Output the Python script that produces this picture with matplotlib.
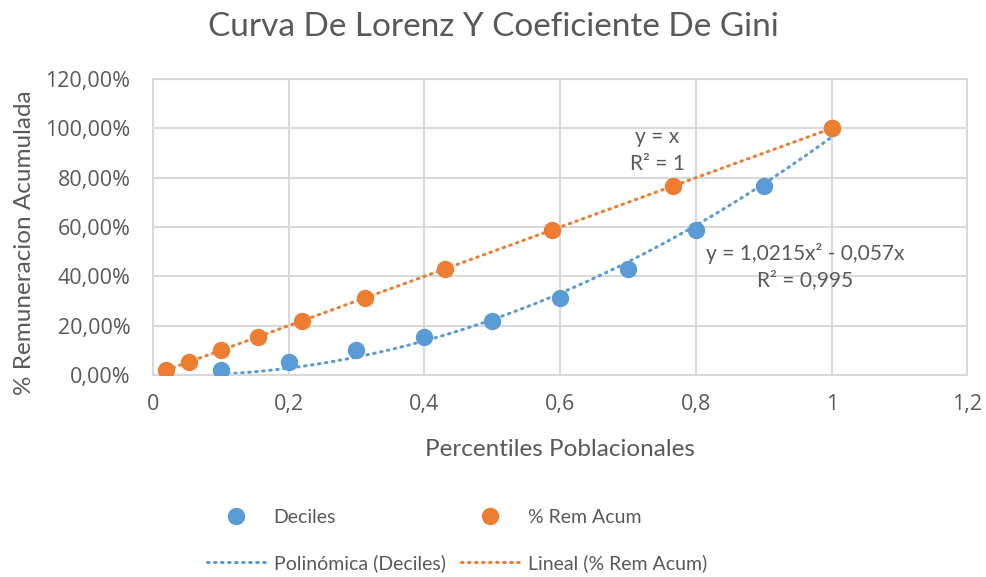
import numpy as np
import matplotlib
matplotlib.use("Agg")
import matplotlib.pyplot as plt
from matplotlib.ticker import FuncFormatter, MultipleLocator

# datos
deciles_x = [0.1, 0.2, 0.3, 0.4, 0.5, 0.6, 0.7, 0.8, 0.9, 1.0]
rem_acum = [0.020, 0.054, 0.101, 0.155, 0.220, 0.312, 0.431, 0.588, 0.766, 1.0]
# la serie "% Rem Acum" usa la propia remuneracion acumulada como eje x
rem_x = list(rem_acum)

titulo = "Curva De Lorenz Y Coeficiente De Gini"
eq_poly = "y = 1,0215x² - 0,057x\nR² = 0,995"
eq_lin = "y = x\nR² = 1"

BLUE = "#5B9BD5"
ORANGE = "#ED7D31"
GRAY = "#595959"
GRID = "#D9D9D9"

plt.rcParams['font.family'] = ['Lato', 'DejaVu Sans']


def fmt_x(v, pos):
    s = ("%.1f" % v).rstrip("0").rstrip(".")
    return s.replace(".", ",")


def fmt_y(v, pos):
    return ("%.2f%%" % (v * 100)).replace(".", ",")


def main():
    fig = plt.figure(figsize=(9.86, 5.77), dpi=100)
    ax = fig.add_axes([0.1549, 0.350, 0.8263, 0.513])

    dots = (0, (0.5, 1.8))

    # linea de tendencia polinomica (orden 2, interseccion en 0)
    x = np.array(deciles_x)
    y = np.array(rem_acum)
    A = np.vstack([x ** 2, x]).T
    coef, *_ = np.linalg.lstsq(A, y, rcond=None)
    xs = np.linspace(x.min(), x.max(), 200)
    ax.plot(xs, coef[0] * xs ** 2 + coef[1] * xs, color=BLUE, lw=2.2,
            linestyle=dots, dash_capstyle="round",
            label="Polinómica (Deciles)", zorder=2)

    # linea de tendencia lineal
    xr = np.array(rem_x)
    m, b = np.polyfit(xr, y, 1)
    xl = np.linspace(xr.min(), xr.max(), 2)
    ax.plot(xl, m * xl + b, color=ORANGE, lw=2.2,
            linestyle=dots, dash_capstyle="round",
            label="Lineal (% Rem Acum)", zorder=2)

    ax.plot(deciles_x, rem_acum, "o", color=BLUE, ms=11.5, label="Deciles", zorder=3)
    ax.plot(rem_x, rem_acum, "o", color=ORANGE, ms=11.5, label="% Rem Acum", zorder=3)

    ax.set_xlim(0, 1.2)
    ax.set_ylim(0, 1.2)
    ax.xaxis.set_major_locator(MultipleLocator(0.2))
    ax.yaxis.set_major_locator(MultipleLocator(0.2))
    ax.xaxis.set_major_formatter(FuncFormatter(fmt_x))
    ax.yaxis.set_major_formatter(FuncFormatter(fmt_y))
    ax.grid(True, color=GRID, lw=1.5)
    ax.set_axisbelow(True)
    for s in ax.spines.values():
        s.set_color(GRID)
        s.set_linewidth(1.5)
    ax.tick_params(length=0, labelsize=15.5, colors=GRAY)
    ax.tick_params(axis="x", pad=14)
    ax.tick_params(axis="y", pad=16)
    for t in ax.get_xticklabels() + ax.get_yticklabels():
        t.set_family(["Open Sans", "DejaVu Sans"])

    ax.set_xlabel("Percentiles Poblacionales", fontsize=17.5, color=GRAY, labelpad=17)
    ax.set_ylabel("% Remuneracion Acumulada", fontsize=17.5, color=GRAY)
    ax.yaxis.set_label_coords(-0.144, 0.446)
    fig.suptitle(titulo, fontsize=24, color=GRAY, y=0.98)

    ax.text(0.743, 0.91, eq_lin, ha="center", va="center", fontsize=15,
            color=GRAY, linespacing=1.4, multialignment="center")
    ax.text(0.961, 0.44, eq_poly, ha="center", va="center", fontsize=15,
            color=GRAY, linespacing=1.4, multialignment="center")

    h, l = ax.get_legend_handles_labels()
    order = [2, 0, 3, 1]
    fig.legend([h[i] for i in order], [l[i] for i in order], ncol=2,
               loc="center", bbox_to_anchor=(0.4635, 0.063),
               frameon=False, fontsize=14, labelcolor=GRAY,
               handlelength=3.0, handletextpad=0.45, columnspacing=0.8,
               labelspacing=1.45)

    fig.savefig("out.png", dpi=100)


if __name__ == "__main__":
    main()
